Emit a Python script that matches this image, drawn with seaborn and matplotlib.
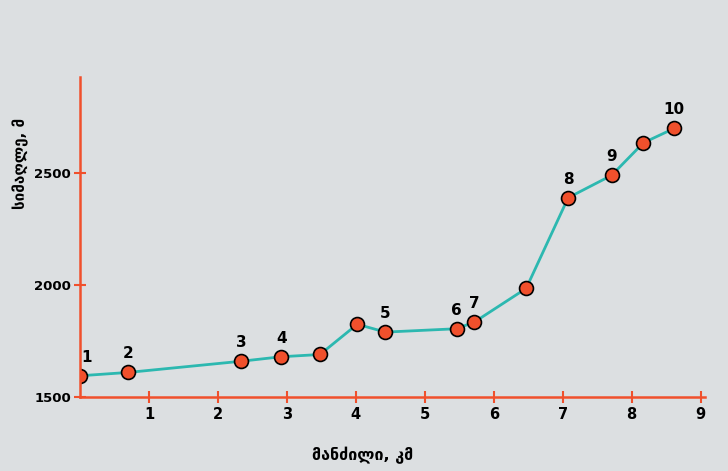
import matplotlib
matplotlib.use("Agg")
import matplotlib.pyplot as plt
import pandas as pd
import seaborn as sns

# distance (km) and height (m)
distance = [0.0, 0.70, 2.34, 2.92, 3.48, 4.02, 4.43, 5.46, 5.72, 6.47, 7.08, 7.71, 8.17, 8.62]
height = [1595, 1610, 1660, 1680, 1690, 1825, 1790, 1805, 1835, 1985, 2390, 2490, 2635, 2700]
point_labels = ["1", "2", "3", "4", "", "", "5", "6", "7", "", "8", "9", "", "10"]
x_ticks = [1, 2, 3, 4, 5, 6, 7, 8, 9]
y_ticks = [1500, 2000, 2500]

bg = "#dcdfe1"
red = "#f0502c"
teal = "#2cb8b0"

df = pd.DataFrame({"distance": distance, "height": height})

sns.set_style("white")
plt.rcParams["font.family"] = ["DejaVu Sans"]
plt.rcParams["text.color"] = "black"

fig = plt.figure(figsize=(7.28, 4.71), dpi=100, facecolor=bg)
ax = fig.add_axes([0.110, 0.157, 0.858, 0.680])
ax.set_facecolor(bg)

sns.lineplot(data=df, x="distance", y="height", ax=ax, color=teal, linewidth=2.0,
             marker="o", markersize=10, markerfacecolor=red,
             markeredgecolor="black", markeredgewidth=1.2, sort=False)

for xv, yv, lab in zip(distance, height, point_labels):
    if not lab:
        continue
    dx = 5 if xv == 0 else 0
    ax.annotate(lab, (xv, yv), xytext=(dx, 8), textcoords="offset points",
                ha="center", va="bottom", fontsize=11, fontweight="bold",
                color="black")

ax.set_xlim(0, 9.06)
ax.set_ylim(1500, 2930)
ax.set_xticks(x_ticks)
ax.set_yticks(y_ticks)

for s in ["top", "right"]:
    ax.spines[s].set_visible(False)
for s in ["left", "bottom"]:
    ax.spines[s].set_color(red)
    ax.spines[s].set_linewidth(1.8)

ax.tick_params(axis="both", bottom=True, left=True, direction="inout", length=9,
               width=1.5, color=red, labelcolor="black", labelsize=10.5, pad=3)
ax.tick_params(axis="y", labelsize=9.5, pad=2)
for t in ax.get_xticklabels() + ax.get_yticklabels():
    t.set_fontweight("bold")

ax.set_xlabel("მანძილი, კმ", fontsize=11.5, fontweight="bold", color="black")
ax.set_ylabel("სიმაღლე, მ", fontsize=11, fontweight="bold", color="black")
ax.xaxis.set_label_coords(0.453, -0.155)
ax.yaxis.set_label_coords(-0.082, 0.73)

fig.savefig("out.png", dpi=100, facecolor=bg)
